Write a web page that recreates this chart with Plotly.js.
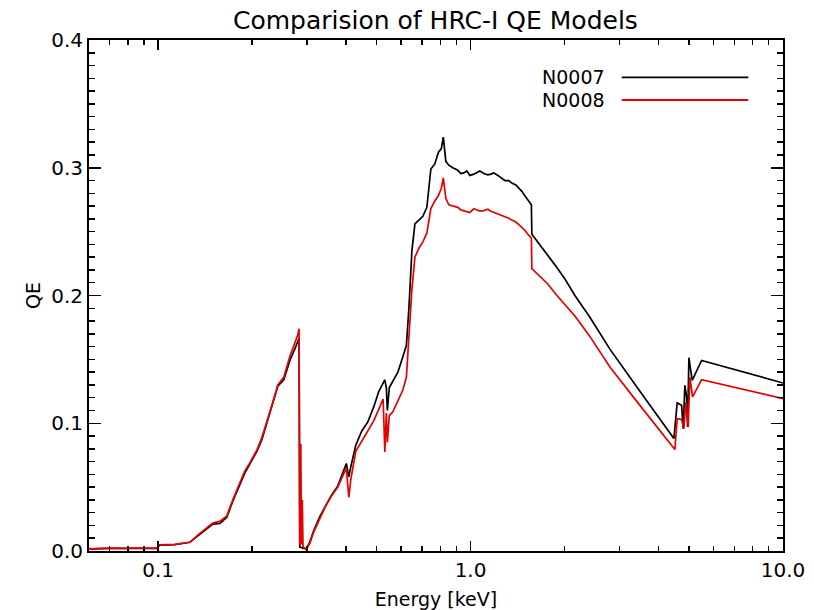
<!DOCTYPE html>
<html>
<head>
<meta charset="utf-8">
<script src="https://cdn.plot.ly/plotly-3.0.1.min.js"></script>
<style>html,body{margin:0;padding:0;background:#fff;}#chart{width:814px;height:610px;}</style>
</head>
<body>
<div id="chart"></div>
<script>
// Energy grid (keV) shared by both models up to ~3.5 keV
const energyCommon = [0.0600,0.0618,0.0701,0.0782,0.0874,0.0990,0.1012,0.1131,0.1263,0.1360,0.1432,0.1497,0.1576,0.1660,0.1734,0.1826,0.1894,0.1966,0.2070,0.2147,0.2228,0.2311,0.2416,0.2525,0.2639,0.2738,0.2799,0.2826,0.2841,0.2862,0.2878,0.2894,0.2909,0.2981,0.3058,0.3150,0.3293,0.3441,0.3597,0.3760,0.3902,0.4004,0.4078,0.4138,0.4294,0.4487,0.4690,0.4903,0.5087,0.5251,0.5317,0.5376,0.5417,0.5495,0.5639,0.5853,0.6072,0.6232,0.6349,0.6491,0.6636,0.6834,0.7038,0.7248,0.7464,0.7686,0.7887,0.8063,0.8182,0.8334,0.8520,0.8776,0.9106,0.9309,0.9517,0.9730,0.9949,1.0247,1.0476,1.0710,1.1031,1.1360,1.1614,1.1876,1.2229,1.2595,1.2877,1.3262,1.3558,1.3964,1.4276,1.4597,1.4922,1.5370,1.5655,1.5713,1.6182,1.6788,1.7674,1.8752,2.0040,2.1577,2.4099,2.7925,3.4834];
const qeN0007Common = [0.0018,0.0016,0.0020,0.0019,0.0022,0.0021,0.0046,0.0050,0.0068,0.0130,0.0180,0.0210,0.0215,0.0265,0.0390,0.0520,0.0610,0.0680,0.0780,0.0870,0.1000,0.1120,0.1290,0.1340,0.1490,0.1580,0.1630,0.1665,0.0030,0.0030,0.0028,0.0025,0.0022,0.0015,0.0070,0.0160,0.0270,0.0360,0.0440,0.0510,0.0620,0.0685,0.0580,0.0660,0.0830,0.0940,0.1010,0.1130,0.1250,0.1320,0.1340,0.1280,0.1100,0.1280,0.1330,0.1400,0.1520,0.1610,0.1900,0.2350,0.2560,0.2590,0.2620,0.2690,0.2990,0.3030,0.3120,0.3150,0.3240,0.3050,0.3020,0.3000,0.2980,0.2955,0.2960,0.2975,0.2940,0.2950,0.2965,0.2975,0.2955,0.2945,0.2950,0.2960,0.2940,0.2915,0.2900,0.2900,0.2880,0.2865,0.2840,0.2815,0.2780,0.2740,0.2710,0.2480,0.2440,0.2390,0.2320,0.2230,0.2130,0.2000,0.1830,0.1580,0.1250];
const qeN0008Common = [0.0016,0.0018,0.0022,0.0021,0.0024,0.0020,0.0048,0.0052,0.0068,0.0138,0.0185,0.0218,0.0232,0.0275,0.0400,0.0535,0.0625,0.0690,0.0790,0.0885,0.1005,0.1135,0.1300,0.1360,0.1520,0.1625,0.1690,0.1740,0.0050,0.0840,0.0050,0.0400,0.0035,0.0012,0.0060,0.0150,0.0260,0.0355,0.0435,0.0500,0.0590,0.0650,0.0420,0.0560,0.0780,0.0860,0.0930,0.1020,0.1110,0.1190,0.0776,0.1080,0.0850,0.1060,0.1090,0.1180,0.1260,0.1360,0.1650,0.2050,0.2300,0.2370,0.2420,0.2490,0.2680,0.2740,0.2780,0.2840,0.2920,0.2760,0.2710,0.2700,0.2690,0.2670,0.2665,0.2660,0.2650,0.2680,0.2670,0.2660,0.2665,0.2675,0.2660,0.2650,0.2640,0.2630,0.2615,0.2605,0.2590,0.2575,0.2555,0.2535,0.2510,0.2470,0.2450,0.2210,0.2180,0.2150,0.2090,0.2010,0.1930,0.1840,0.1680,0.1440,0.1140];
// High-energy tails (L edges), read separately for each model
const energyN0007Tail = [4.475,4.585,4.736,4.792,4.853,4.914,4.950,4.998,5.121,5.489,10.0];
const qeN0007Tail = [0.0880,0.1159,0.1141,0.0958,0.1297,0.1206,0.0971,0.1513,0.1336,0.1492,0.1315];
const energyN0008Tail = [4.508,4.585,4.736,4.817,4.889,4.973,5.035,5.135,5.489,10.0];
const qeN0008Tail = [0.0794,0.1036,0.1029,0.0958,0.1166,0.0971,0.1362,0.1206,0.1341,0.1193];

const seriesNames = ["N0007","N0008"];
const chartTitle = "Comparision of HRC-I QE Models";

const FONT = "DejaVu Sans, Liberation Sans, sans-serif";

const traces = [
  {x: energyCommon.concat(energyN0007Tail), y: qeN0007Common.concat(qeN0007Tail), mode: "lines", name: seriesNames[0],
   line: {color: "#000000", width: 1.7}, showlegend: false},
  {x: energyCommon.concat(energyN0008Tail), y: qeN0008Common.concat(qeN0008Tail), mode: "lines", name: seriesNames[1],
   line: {color: "#e60000", width: 1.7}, showlegend: false}
];

const axisCommon = {
  showline: true, linecolor: "#000", linewidth: 2, mirror: "allticks",
  ticks: "inside", tickcolor: "#000", tickwidth: 1.5, showgrid: false, zeroline: false,
  tickfont: {family: FONT, size: 20, color: "#000"}
};

const layout = {
  width: 814, height: 610,
  margin: {l: 89, r: 31, t: 40, b: 59},
  xaxis: Object.assign({}, axisCommon, {
    type: "log", range: [Math.log10(0.0601), 1],
    tickmode: "linear", tick0: 0, dtick: 1, tickformat: ".1f", ticklen: 10,
    minor: {dtick: "D1", ticks: "inside", ticklen: 5, tickcolor: "#000", tickwidth: 1.5, showgrid: false},
    title: {text: "Energy [keV]", font: {family: FONT, size: 19, color: "#000"}}
  }),
  yaxis: Object.assign({}, axisCommon, {
    range: [0, 0.4], tickmode: "linear", tick0: 0, dtick: 0.1, tickformat: ".1f", ticklen: 12,
    minor: {dtick: 0.01, tick0: 0, ticks: "inside", ticklen: 6, tickcolor: "#000", tickwidth: 1.5, showgrid: false},
    title: {text: "QE", font: {family: FONT, size: 19, color: "#000"}}
  }),
  annotations: [
    {xref: "paper", yref: "paper", x: 0.4986, y: 1.039, xanchor: "center", yanchor: "middle", showarrow: false,
     text: chartTitle, font: {family: FONT, size: 25, color: "#000"}},
    {xref: "paper", yref: "paper", x: 0.7464, y: 0.927, xanchor: "right", yanchor: "middle", showarrow: false,
     text: seriesNames[0], font: {family: FONT, size: 19, color: "#000"}},
    {xref: "paper", yref: "paper", x: 0.7464, y: 0.8826, xanchor: "right", yanchor: "middle", showarrow: false,
     text: seriesNames[1], font: {family: FONT, size: 19, color: "#000"}}
  ],
  shapes: [
    {type: "line", xref: "paper", yref: "paper", x0: 0.7676, x1: 0.950, y0: 0.927, y1: 0.927, line: {color: "#000", width: 1.8}},
    {type: "line", xref: "paper", yref: "paper", x0: 0.7676, x1: 0.950, y0: 0.8826, y1: 0.8826, line: {color: "#e60000", width: 1.8}}
  ]
};

Plotly.newPlot("chart", traces, layout, {staticPlot: true, displayModeBar: false});
</script>
</body>
</html>
